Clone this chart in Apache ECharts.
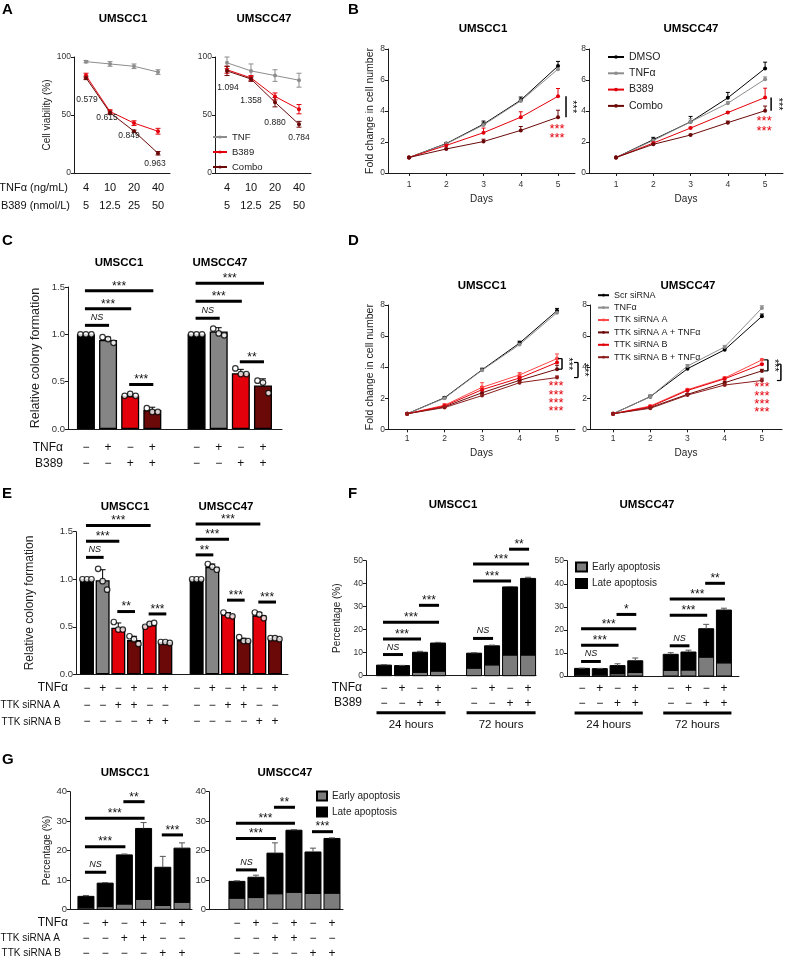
<!DOCTYPE html>
<html>
<head>
<meta charset="utf-8">
<title>Figure</title>
<script src="https://cdn.jsdelivr.net/npm/echarts@6.0.0/dist/echarts.min.js"></script>
<style>
html,body{margin:0;padding:0;background:#ffffff;}
#chart{width:788px;height:962px;}
</style>
</head>
<body>
<div id="chart"></div>
<script>
// ======================= DATA =======================
// Panel A – cell viability (%)
const aTNFDose   = ['4', '10', '20', '40'];
const aB389Dose  = ['5', '12.5', '25', '50'];
const a1TNF      = [96, 94, 92, 87];
const a1TNFErr   = [1, 2, 2, 2];
const a1B389     = [84, 53, 43, 36];
const a1B389Err  = [2, 1.5, 2, 2.5];
const a1Combo    = [82, 52, 36, 17];
const a1ComboErr = [1.5, 1.5, 1, 1.5];
const a1CI       = ['0.579', '0.615', '0.849', '0.963'];
const a2TNF      = [95, 88, 84, 80];
const a2TNFErr   = [5, 6, 5, 6];
const a2B389     = [89, 82, 66, 55];
const a2B389Err  = [3, 2, 3, 4];
const a2Combo    = [88, 81, 61, 42];
const a2ComboErr = [4, 2, 4, 2.5];
const a2CI       = ['1.094', '1.358', '0.880', '0.784'];

// Panel B – fold change in cell number
const days = [1, 2, 3, 4, 5];
const b1DMSO     = [1, 1.9, 3.15, 4.7, 6.9];
const b1DMSOErr  = [0, 0.05, 0.2, 0.2, 0.3];
const b1TNF      = [1, 1.88, 3.1, 4.65, 6.7];
const b1TNFErr   = [0, 0.05, 0.15, 0.15, 0.2];
const b1B389     = [1, 1.78, 2.6, 3.6, 4.95];
const b1B389Err  = [0, 0.05, 0.3, 0.35, 0.5];
const b1Combo    = [1, 1.55, 2.03, 2.75, 3.6];
const b1ComboErr = [0, 0.05, 0.15, 0.25, 0.45];
const b2DMSO     = [1, 2.15, 3.3, 4.85, 6.75];
const b2DMSOErr  = [0, 0.15, 0.35, 0.35, 0.4];
const b2TNF      = [1, 2.1, 3.3, 4.5, 6.05];
const b2TNFErr   = [0, 0.1, 0.2, 0.1, 0.15];
const b2B389     = [1, 1.93, 2.9, 3.9, 4.87];
const b2B389Err  = [0, 0.1, 0.05, 0.05, 0.6];
const b2Combo    = [1, 1.85, 2.45, 3.25, 4.02];
const b2ComboErr = [0, 0.05, 0.05, 0.1, 0.3];
const bSigBlack  = ['***'];
const bSigRed    = ['***', '***'];

// Panel C – relative colony formation
const cBars  = [1.0, 0.94, 0.35, 0.20, 1.0, 1.03, 0.59, 0.46];
const cErr   = [0, 0.03, 0.02, 0.03, 0, 0.04, 0.04, 0.07];
const cDots  = [[1, 1, 1], [0.97, 0.95, 0.91], [0.35, 0.37, 0.35], [0.22, 0.18, 0.18],
                [1, 1, 1], [1.06, 1.01, 0.99], [0.64, 0.58, 0.58], [0.51, 0.49, 0.38]];
const cRowTNF  = ['−', '+', '−', '+', '−', '+', '−', '+'];
const cRowB389 = ['−', '−', '+', '+', '−', '−', '+', '+'];
const cSig = [[0, 1, 1.095, 'NS'], [0, 2, 1.27, '***'], [0, 3, 1.46, '***'], [2, 3, 0.47, '***'],
              [4, 5, 1.17, 'NS'], [4, 6, 1.35, '***'], [4, 7, 1.54, '***'], [6, 7, 0.71, '**']];

// Panel D – fold change, siRNA
const d1Scr  = [1, 2.03, 3.83, 5.55, 7.63];  const d1ScrErr  = [0, 0.08, 0.1, 0.12, 0.15];
const d1TNF  = [1, 2.0, 3.8, 5.45, 7.5];     const d1TNFErr  = [0, 0.05, 0.1, 0.1, 0.12];
const d1A    = [1, 1.55, 2.7, 3.5, 4.55];    const d1AErr    = [0, 0.1, 0.3, 0.15, 0.3];
const d1ATNF = [1, 1.45, 2.35, 3.15, 3.87];  const d1ATNFErr = [0, 0.05, 0.15, 0.15, 0.25];
const d1B    = [1, 1.5, 2.55, 3.3, 4.3];     const d1BErr    = [0, 0.1, 0.2, 0.1, 0.25];
const d1BTNF = [1, 1.4, 2.17, 3.0, 3.33];    const d1BTNFErr = [0, 0.05, 0.1, 0.1, 0.1];
const d2Scr  = [1, 2.1, 3.9, 5.12, 7.27];    const d2ScrErr  = [0, 0.1, 0.08, 0.08, 0.15];
const d2TNF  = [1, 2.1, 4.07, 5.3, 7.8];     const d2TNFErr  = [0, 0.08, 0.1, 0.1, 0.15];
const d2A    = [1, 1.5, 2.55, 3.3, 4.47];    const d2AErr    = [0, 0.05, 0.08, 0.08, 0.05];
const d2ATNF = [1, 1.4, 2.25, 3.0, 3.76];    const d2ATNFErr = [0, 0.05, 0.05, 0.1, 0.1];
const d2B    = [1, 1.45, 2.5, 3.25, 4.19];   const d2BErr    = [0, 0.05, 0.05, 0.08, 0.05];
const d2BTNF = [1, 1.35, 2.2, 2.85, 3.14];   const d2BTNFErr = [0, 0.05, 0.05, 0.05, 0.15];
const dSigBlack = ['***', '***'];
const dSigRed   = ['***', '***', '***', '***'];

// Panel E – relative colony formation, siRNA
const eBars = [1.0, 0.99, 0.49, 0.36, 0.52, 0.34, 1.0, 1.13, 0.63, 0.36, 0.62, 0.38];
const eErr  = [0, 0.11, 0.05, 0.04, 0.02, 0.01, 0, 0.03, 0.02, 0.02, 0.03, 0.01];
const eDots = [[1, 1, 1], [1.11, 0.98, 0.89], [0.55, 0.47, 0.47], [0.40, 0.37, 0.32], [0.50, 0.53, 0.54], [0.34, 0.34, 0.33],
               [1, 1, 1], [1.16, 1.13, 1.10], [0.65, 0.62, 0.61], [0.39, 0.35, 0.35], [0.65, 0.63, 0.59], [0.38, 0.38, 0.37]];
const eRowTNF = ['−', '+', '−', '+', '−', '+', '−', '+', '−', '+', '−', '+'];
const eRowA   = ['−', '−', '+', '+', '−', '−', '−', '−', '+', '+', '−', '−'];
const eRowB   = ['−', '−', '−', '−', '+', '+', '−', '−', '−', '−', '+', '+'];
const eSig = [[0, 1, 1.23, 'NS'], [0, 2, 1.40, '***'], [0, 4, 1.565, '***'], [2, 3, 0.66, '**'], [4, 5, 0.635, '***'],
              [6, 7, 1.256, '**'], [6, 8, 1.42, '***'], [6, 10, 1.58, '***'], [8, 9, 0.78, '***'], [10, 11, 0.76, '***']];

// Panel F – apoptosis (%)
const f1Early = [0.5, 0.5, 1.5, 2.0, 3.3, 4.7, 9.0, 9.0];
const f1Late  = [4.1, 3.9, 8.7, 12.2, 6.5, 8.3, 29.6, 33.3];
const f1Err   = [0.2, 0.1, 0.4, 0.3, 0.2, 0.3, 0.2, 0.5];
const f1Sig = [[0, 1, 9.2, 'NS'], [0, 2, 16.0, '***'], [0, 3, 23.2, '***'], [2, 3, 30.6, '***'],
               [4, 5, 16.2, 'NS'], [4, 6, 41.2, '***'], [4, 7, 48.6, '***'], [6, 7, 55, '**']];
const f2Early = [0.5, 0.5, 1.0, 1.5, 2.5, 2.6, 8.2, 5.7];
const f2Late  = [2.8, 2.7, 3.5, 5.1, 6.9, 7.8, 12.3, 22.9];
const f2Err   = [0.1, 0.1, 0.8, 1.2, 0.7, 0.8, 1.9, 0.8];
const f2Sig = [[0, 1, 6.3, 'NS'], [0, 2, 13.3, '***'], [0, 3, 20.5, '***'], [2, 3, 26.7, '*'],
               [4, 5, 13.1, 'NS'], [4, 6, 26.3, '***'], [4, 7, 33.4, '***'], [6, 7, 40.2, '**']];
const fRowTNF  = ['−', '+', '−', '+', '−', '+', '−', '+'];
const fRowB389 = ['−', '−', '+', '+', '−', '−', '+', '+'];
const fGroups  = ['24 hours', '72 hours'];

// Panel G – apoptosis (%), siRNA
const g1Early = [0.5, 0.9, 1.8, 3.4, 1.3, 2.4];
const g1Late  = [3.9, 8.0, 16.7, 24.1, 13.0, 18.4];
const g1Err   = [0.3, 0.2, 0.3, 2.0, 3.7, 1.8];
const g1Sig = [[0, 1, 12.6, 'NS'], [0, 2, 21.3, '***'], [0, 3, 31.0, '***'], [2, 3, 36.6, '**'], [4, 5, 25.3, '***']];
const g2Early = [3.8, 4.0, 5.3, 5.8, 5.4, 5.5];
const g2Late  = [5.7, 6.9, 13.8, 21.1, 14.1, 18.6];
const g2Err   = [0.2, 0.7, 3.5, 0.2, 1.3, 0.2];
const g2Sig = [[0, 1, 13.4, 'NS'], [0, 2, 24.1, '***'], [0, 3, 29.3, '***'], [2, 3, 34.7, '**'], [4, 5, 26.4, '***']];
const gRowTNF = ['−', '+', '−', '+', '−', '+'];
const gRowA   = ['−', '−', '+', '+', '−', '−'];
const gRowB   = ['−', '−', '−', '−', '+', '+'];

// ======================= STYLE =======================
const FONT = '"Liberation Sans", Arial, Helvetica, sans-serif';
const BLACK = '#000000', GREY = '#8d8d8d', RED = '#e3000b', DRED = '#6b0909', LRED = '#ff4848';
const BAR_GREY = '#858585', EARLY_GREY = '#7c7c7c';

const grid = [], xAxis = [], yAxis = [], series = [];
function addGrid(g) { grid.push(g); return grid.length - 1; }
function axLine() { return {show: true, onZero: false, lineStyle: {color: '#1a1a1a', width: 1}}; }
function slotsFor(n, groupSize) { return Array.from({length: n}, (_, i) => i + Math.floor(i / groupSize)); }
function txtStyle(o) {
  return Object.assign({fontFamily: FONT, fill: '#111', align: 'center', verticalAlign: 'middle',
                        textAlign: 'center', textVerticalAlign: 'middle'}, o);
}

function yAx(gi, o) {
  return {
    type: 'value', gridIndex: gi, min: 0, max: o.max, interval: o.interval,
    axisLine: axLine(), axisTick: {show: true, length: 3, lineStyle: {color: '#1a1a1a'}},
    axisLabel: {fontSize: o.fs || 9, color: '#333', margin: 3, fontFamily: FONT, formatter: o.fmt},
    splitLine: {show: false},
    name: o.name || '', nameLocation: 'middle', nameGap: o.nameGap || 20, nameRotate: 90,
    nameTextStyle: {fontSize: o.nameFs || 10, color: '#222', fontFamily: FONT}
  };
}

function lineS(name, gi, data, color, xs, extra) {
  return Object.assign({
    type: 'line', name, xAxisIndex: gi, yAxisIndex: gi,
    data: xs ? data.map((v, i) => [xs[i], v]) : data,
    symbol: 'circle', symbolSize: 4, showSymbol: true, animation: false,
    lineStyle: {color, width: 1}, itemStyle: {color}, z: 4, emphasis: {disabled: true}
  }, extra || {});
}

function errS(gi, xs, ys, es, color, both, cap) {
  return {
    type: 'custom', xAxisIndex: gi, yAxisIndex: gi, clip: false, silent: true, z: 3,
    data: xs.map((x, i) => [x, ys[i], es[i]]),
    renderItem: (params, api) => {
      const x = api.value(0), y = api.value(1), e = api.value(2);
      if (!e) return {type: 'group', children: []};
      const t = api.coord([x, y + e]), b = api.coord([x, both ? y - e : y]);
      const ch = [
        {type: 'line', shape: {x1: t[0], y1: t[1], x2: b[0], y2: b[1]}, style: {stroke: color, lineWidth: 1}},
        {type: 'line', shape: {x1: t[0] - cap, y1: t[1], x2: t[0] + cap, y2: t[1]}, style: {stroke: color, lineWidth: 1}}
      ];
      if (both) ch.push({type: 'line', shape: {x1: b[0] - cap, y1: b[1], x2: b[0] + cap, y2: b[1]}, style: {stroke: color, lineWidth: 1}});
      return {type: 'group', children: ch};
    }
  };
}

function sigS(gi, sig, slots) {
  return {
    type: 'custom', xAxisIndex: gi, yAxisIndex: gi, clip: false, silent: true, z: 8,
    data: sig.map(s => [slots[s[0]], s[2]]),
    renderItem: (params, api) => {
      const s = sig[params.dataIndex];
      const p1 = api.coord([slots[s[0]], s[2]]), p2 = api.coord([slots[s[1]], s[2]]);
      const ns = s[3] === 'NS';
      return {type: 'group', children: [
        {type: 'rect', shape: {x: p1[0] - 1, y: p1[1] - 1.5, width: p2[0] - p1[0] + 2, height: 3}, style: {fill: '#000'}},
        {type: 'text', style: txtStyle({x: (p1[0] + p2[0]) / 2, y: p1[1] - (ns ? 7.5 : 4.5), text: s[3],
          fontSize: ns ? 9 : 12, fontStyle: ns ? 'italic' : 'normal', fill: '#111'})}
      ]};
    }
  };
}

function bracketS(gi, xVal, tops, bots, texts, o) {
  return {
    type: 'custom', xAxisIndex: gi, yAxisIndex: gi, clip: false, silent: true, z: 8,
    data: texts.map((t, i) => [xVal, tops[i]]),
    renderItem: (params, api) => {
      const i = params.dataIndex;
      const a = api.coord([xVal, tops[i]]), b = api.coord([xVal, bots[i]]);
      const X = a[0] + o.dx + i * o.step;
      const ch = [{type: 'line', shape: {x1: X, y1: a[1], x2: X, y2: b[1]}, style: {stroke: '#000', lineWidth: 1.5}}];
      if (o.bracket) {
        ch.push({type: 'line', shape: {x1: X - 4, y1: a[1], x2: X, y2: a[1]}, style: {stroke: '#000', lineWidth: 1.2}});
        ch.push({type: 'line', shape: {x1: X - 4, y1: b[1], x2: X, y2: b[1]}, style: {stroke: '#000', lineWidth: 1.2}});
      }
      ch.push({type: 'text', x: X + o.tx, y: (a[1] + b[1]) / 2, rotation: -Math.PI / 2,
        style: txtStyle({x: 0, y: 0, text: texts[i], fontSize: 11, fill: '#000'})});
      return {type: 'group', children: ch};
    }
  };
}

function redStarS(gi, xVal, anchor, lines, o) {
  return {
    type: 'custom', xAxisIndex: gi, yAxisIndex: gi, clip: false, silent: true, z: 8,
    data: [[xVal, anchor]],
    renderItem: (params, api) => {
      const a = api.coord([xVal, anchor]);
      return {type: 'text', style: {x: a[0] + o.dx, y: a[1] + o.dy, text: lines.join('\n'), fontSize: 13, lineHeight: o.lh,
        fontFamily: FONT, fill: RED, align: 'center', verticalAlign: 'top', textAlign: 'center', textVerticalAlign: 'top'}};
    }
  };
}

function stackS(gi, name, slots, early, late, which, color, bw) {
  return {
    type: 'custom', name, xAxisIndex: gi, yAxisIndex: gi, clip: false, z: 2,
    itemStyle: {color, borderColor: '#000', borderWidth: 1},
    data: slots.map((s, i) => [s, early[i], late[i]]),
    renderItem: (params, api) => {
      const x = api.value(0), e = api.value(1), l = api.value(2);
      const y0 = which === 'early' ? 0 : e, y1 = which === 'early' ? e : e + l;
      const a = api.coord([x, y0]), b = api.coord([x, y1]);
      return {type: 'rect', shape: {x: a[0] - bw / 2, y: b[1], width: bw, height: a[1] - b[1]},
              style: {fill: color, stroke: '#000', lineWidth: 1}};
    }
  };
}

function groupS(gi, slots, groups, perGroup, bw) {
  return {
    type: 'custom', xAxisIndex: gi, yAxisIndex: gi, clip: false, silent: true, z: 8,
    data: groups.map((g, k) => [slots[k * perGroup], 0]),
    renderItem: (params, api) => {
      const k = params.dataIndex;
      const p1 = api.coord([slots[k * perGroup], 0]), p2 = api.coord([slots[k * perGroup + perGroup - 1], 0]);
      return {type: 'group', children: [
        {type: 'rect', shape: {x: p1[0] - bw / 2, y: p1[1] + 35.5, width: p2[0] - p1[0] + bw, height: 3}, style: {fill: '#000'}},
        {type: 'text', style: txtStyle({x: (p1[0] + p2[0]) / 2, y: p1[1] + 49, text: groups[k], fontSize: 11.5, fill: '#111'})}
      ]};
    }
  };
}

function barX(gi, o, slots, rows) {
  return {
    type: 'value', gridIndex: gi, min: o.min, max: o.max,
    axisLine: axLine(), axisTick: {show: false}, splitLine: {show: false},
    axisLabel: {customValues: slots, fontSize: 12, lineHeight: o.lh, margin: o.margin, color: '#111', fontFamily: FONT,
      formatter: v => { const i = slots.indexOf(v); return i < 0 ? '' : rows.map(r => r[i]).join('\n'); }}
  };
}

function dotsS(gi, slots, dots, spread) {
  const data = [];
  dots.forEach((arr, i) => arr.forEach((v, j) => data.push({value: [slots[i], v], symbolOffset: [(j - 1) * spread, 0]})));
  return {type: 'scatter', xAxisIndex: gi, yAxisIndex: gi, symbol: 'circle', symbolSize: 5.5, z: 6, silent: true,
          itemStyle: {color: '#fff', borderColor: '#000', borderWidth: 1.2}, data};
}

// ======================= PANEL A =======================
function panelA(g, tnf, tnfE, b389, b389E, combo, comboE, ci, ciOff, yName) {
  const gi = addGrid(g);
  xAxis.push({type: 'category', gridIndex: gi, data: aTNFDose, boundaryGap: true, axisLine: axLine(), axisTick: {show: false},
    axisLabel: {interval: 0, margin: 6, fontSize: 11, lineHeight: 18, color: '#111', fontFamily: FONT,
      formatter: (v, i) => aTNFDose[i] + '\n' + aB389Dose[i]}});
  yAxis.push(yAx(gi, {max: 100, interval: 50, fs: 8.5, name: yName, nameGap: 22, nameFs: 10}));
  const xs = [0, 1, 2, 3];
  series.push(lineS('TNF', gi, tnf, GREY));
  series.push(lineS('B389', gi, b389, RED));
  series.push(lineS('Combo', gi, combo.map((v, i) => ({value: v, label: {show: true, position: 'inside', offset: ciOff[i],
    formatter: ci[i], fontSize: 8.5, color: '#222', fontFamily: FONT}})), DRED));
  series.push(errS(gi, xs, tnf, tnfE, GREY, true, 2.5));
  series.push(errS(gi, xs, b389, b389E, RED, true, 2.5));
  series.push(errS(gi, xs, combo, comboE, DRED, true, 2.5));
}
panelA({left: 74, top: 57, width: 96, height: 116}, a1TNF, a1TNFErr, a1B389, a1B389Err, a1Combo, a1ComboErr, a1CI,
       [[1, 22], [-3, 4.5], [-5, 4], [-3, 10.5]], 'Cell viability (%)');
panelA({left: 215, top: 57, width: 96, height: 116}, a2TNF, a2TNFErr, a2B389, a2B389Err, a2Combo, a2ComboErr, a2CI,
       [[1, 17], [0, 21.5], [0, 20.5], [0, 13.5]], '');

// ======================= PANEL B / D (growth curves) =======================
function growthGrid(g, xmin, xmax, yName, lblMargin, nameGap) {
  const gi = addGrid(g);
  xAxis.push({type: 'value', gridIndex: gi, min: xmin, max: xmax, axisLine: axLine(),
    axisTick: {show: true, customValues: days, length: 3, lineStyle: {color: '#1a1a1a'}},
    axisLabel: {customValues: days, fontSize: 8.5, color: '#333', margin: lblMargin, fontFamily: FONT},
    splitLine: {show: false}, name: 'Days', nameLocation: 'middle', nameGap: nameGap,
    nameTextStyle: {fontSize: 10, color: '#222', fontFamily: FONT}});
  yAxis.push(yAx(gi, {max: 8, interval: 2, fs: 8.5, name: yName, nameGap: 12, nameFs: 10.5}));
  return gi;
}
function addCurves(gi, list) {
  list.forEach(c => {
    series.push(lineS(c[0], gi, c[1], c[3], days));
    series.push(errS(gi, days, c[1], c[2], c[3], false, 2));
  });
}
// B
let gi = growthGrid({left: 388, top: 49, width: 187, height: 124}, 0.436, 5.456, 'Fold change in cell number', 7, 21);
addCurves(gi, [['DMSO', b1DMSO, b1DMSOErr, BLACK], ['TNFα', b1TNF, b1TNFErr, GREY], ['B389', b1B389, b1B389Err, RED], ['Combo', b1Combo, b1ComboErr, DRED]]);
series.push(bracketS(gi, 5, [b1B389[4]], [b1Combo[4]], bSigBlack, {dx: 8, step: 0, tx: 6, bracket: false}));
series.push(redStarS(gi, 5, b1Combo[4], bSigRed, {dx: -1, dy: 8, lh: 9}));
gi = growthGrid({left: 589, top: 49, width: 194, height: 124}, 0.275, 5.48, '', 7, 21);
addCurves(gi, [['DMSO', b2DMSO, b2DMSOErr, BLACK], ['TNFα', b2TNF, b2TNFErr, GREY], ['B389', b2B389, b2B389Err, RED], ['Combo', b2Combo, b2ComboErr, DRED]]);
series.push(bracketS(gi, 5, [b2B389[4]], [b2Combo[4]], bSigBlack, {dx: 6, step: 0, tx: 7, bracket: false}));
series.push(redStarS(gi, 5, b2Combo[4], bSigRed, {dx: -1, dy: 6, lh: 9.5}));

// ======================= PANEL C =======================
const cSlots = slotsFor(cBars.length, 4);
const cColors = [BLACK, BAR_GREY, RED, DRED, BLACK, BAR_GREY, RED, DRED];
gi = addGrid({left: 68, top: 287, width: 214, height: 142});
xAxis.push(barX(gi, {min: -0.81, max: 8.86, lh: 16, margin: 11}, cSlots, [cRowTNF, cRowB389]));
yAxis.push(yAx(gi, {max: 1.5, interval: 0.5, fs: 9.5, fmt: v => v.toFixed(1), name: 'Relative colony formation', nameGap: 26, nameFs: 12.5}));
series.push({type: 'bar', xAxisIndex: gi, yAxisIndex: gi, barWidth: 18, z: 2, silent: true,
  data: cBars.map((v, i) => ({value: [cSlots[i], v], itemStyle: {color: cColors[i], borderColor: '#000', borderWidth: 1.3}}))});
series.push(errS(gi, cSlots, cBars, cErr, '#000', false, 3));
series.push(dotsS(gi, cSlots, cDots, 5.5));
series.push(sigS(gi, cSig, cSlots));

// ======================= PANEL D =======================
gi = growthGrid({left: 388, top: 305, width: 187, height: 124.3}, 0.49, 5.48, 'Fold change in cell number', 5, 19);
addCurves(gi, [['Scr siRNA', d1Scr, d1ScrErr, BLACK], ['TNFα', d1TNF, d1TNFErr, GREY], ['TTK siRNA A', d1A, d1AErr, LRED],
               ['TTK siRNA A + TNFα', d1ATNF, d1ATNFErr, DRED], ['TTK siRNA B', d1B, d1BErr, RED], ['TTK siRNA B + TNFα', d1BTNF, d1BTNFErr, '#8a1c1c']]);
series.push(bracketS(gi, 5, [d1A[4], d1B[4]], [d1ATNF[4], d1BTNF[4]], dSigBlack, {dx: 5, step: 16, tx: 6, bracket: true}));
series.push(redStarS(gi, 5, d1BTNF[4], dSigRed, {dx: -1, dy: 5, lh: 8.3}));
gi = growthGrid({left: 590, top: 305, width: 192, height: 124.3}, 0.38, 5.54, '', 5, 19);
addCurves(gi, [['Scr siRNA', d2Scr, d2ScrErr, BLACK], ['TNFα', d2TNF, d2TNFErr, GREY], ['TTK siRNA A', d2A, d2AErr, LRED],
               ['TTK siRNA A + TNFα', d2ATNF, d2ATNFErr, DRED], ['TTK siRNA B', d2B, d2BErr, RED], ['TTK siRNA B + TNFα', d2BTNF, d2BTNFErr, '#8a1c1c']]);
series.push(bracketS(gi, 5, [d2A[4], d2B[4]], [d2ATNF[4], d2BTNF[4]], dSigBlack, {dx: 6, step: 13, tx: 6, bracket: true}));
series.push(redStarS(gi, 5, d2BTNF[4], dSigRed, {dx: 0, dy: 3, lh: 8.3}));

// ======================= PANEL E =======================
const eSlots = slotsFor(eBars.length, 6);
const eColors = [BLACK, BAR_GREY, RED, DRED, RED, DRED, BLACK, BAR_GREY, RED, DRED, RED, DRED];
gi = addGrid({left: 76, top: 531.7, width: 212, height: 142.6});
xAxis.push(barX(gi, {min: -0.7, max: 12.83, lh: 16.7, margin: 6}, eSlots, [eRowTNF, eRowA, eRowB]));
yAxis.push(yAx(gi, {max: 1.5, interval: 0.5, fs: 9.5, fmt: v => v.toFixed(1), name: 'Relative colony formation', nameGap: 40, nameFs: 12}));
series.push({type: 'bar', xAxisIndex: gi, yAxisIndex: gi, barWidth: 14, z: 2, silent: true,
  data: eBars.map((v, i) => ({value: [eSlots[i], v], itemStyle: {color: eColors[i], borderColor: '#000', borderWidth: 1.3}}))});
series.push(errS(gi, eSlots, eBars, eErr, '#000', false, 3));
series.push(dotsS(gi, eSlots, eDots, 4.5));
series.push(sigS(gi, eSig, eSlots));

// ======================= PANEL F =======================
function apopPanel(g, xmin, xmax, ymax, slots, early, late, err, sig, rows, bw, yName, nameGap, fs, margin, lh) {
  const gi = addGrid(g);
  xAxis.push(barX(gi, {min: xmin, max: xmax, lh: lh, margin: margin}, slots, rows));
  yAxis.push(yAx(gi, {max: ymax, interval: 10, fs: fs, name: yName, nameGap: nameGap, nameFs: 10}));
  series.push(stackS(gi, 'Early apoptosis', slots, early, late, 'early', EARLY_GREY, bw));
  series.push(stackS(gi, 'Late apoptosis', slots, early, late, 'late', BLACK, bw));
  series.push(errS(gi, slots, early.map((e, i) => e + late[i]), err, '#555', false, 3));
  series.push(sigS(gi, sig, slots));
  return gi;
}
const fSlots = slotsFor(f1Early.length, 4);
gi = apopPanel({left: 366, top: 560.7, width: 170, height: 115}, -1.0, 8.44, 50, fSlots, f1Early, f1Late, f1Err, f1Sig,
               [fRowTNF, fRowB389], 15, 'Percentage (%)', 24, 8.5, 5, 15);
series.push(groupS(gi, fSlots, fGroups, 4, 15));
gi = apopPanel({left: 567, top: 560.7, width: 172, height: 115.3}, -0.85, 8.85, 50, fSlots, f2Early, f2Late, f2Err, f2Sig,
               [fRowTNF, fRowB389], 15, '', 24, 8.5, 5, 15);
series.push(groupS(gi, fSlots, fGroups, 4, 15));

// ======================= PANEL G =======================
const gSlots = slotsFor(g1Early.length, 6);
apopPanel({left: 70, top: 791.7, width: 122, height: 117.6}, -0.83, 5.52, 40, gSlots, g1Early, g1Late, g1Err, g1Sig,
          [gRowTNF, gRowA, gRowB], 16, 'Percentage (%)', 18, 9.5, 6.5, 15);
apopPanel({left: 209, top: 791.7, width: 134, height: 117.6}, -1.47, 5.58, 40, gSlots, g2Early, g2Late, g2Err, g2Sig,
          [gRowTNF, gRowA, gRowB], 16, '', 18, 9.5, 6.5, 15);

// ======================= TEXT / LAYOUT =======================
const elements = [];
function T(text, x, y, o) {
  o = o || {};
  elements.push({type: 'text', x: x, y: y, silent: true, style: txtStyle({text: text, fontSize: o.fs || 11,
    fontWeight: o.fw || 'normal', fill: o.color || '#111', align: o.align || 'center', textAlign: o.align || 'center'})});
}
// panel letters
[['A', 2, 10], ['B', 348, 10], ['C', 2, 241], ['D', 348, 241], ['E', 2, 494], ['F', 348, 494], ['G', 2, 760]]
  .forEach(l => T(l[0], l[1], l[2], {fs: 15, fw: 'bold', align: 'left', color: '#000'}));
// panel titles
[['UMSCC1', 123, 19], ['UMSCC47', 264, 19], ['UMSCC1', 483, 29], ['UMSCC47', 691, 29],
 ['UMSCC1', 119, 263], ['UMSCC47', 220, 263], ['UMSCC1', 482, 286], ['UMSCC47', 688, 286],
 ['UMSCC1', 125, 507], ['UMSCC47', 226, 507], ['UMSCC1', 453, 505], ['UMSCC47', 647, 505],
 ['UMSCC1', 125, 773], ['UMSCC47', 285, 773]]
  .forEach(t => T(t[0], t[1], t[2], {fs: 11.5, fw: 'bold', color: '#000'}));
// row labels of the treatment tables
T('TNFα (ng/mL)', 68, 188, {fs: 11, align: 'right'});
T('B389 (nmol/L)', 70, 206, {fs: 11, align: 'right'});
T('TNFα', 63, 448, {fs: 12, align: 'right'});
T('B389', 63, 464, {fs: 12, align: 'right'});
T('TNFα', 68, 688, {fs: 12, align: 'right'});
T('TTK siRNA A', 60, 705, {fs: 10, align: 'right'});
T('TTK siRNA B', 61, 722, {fs: 10, align: 'right'});
T('TNFα', 362, 688, {fs: 12, align: 'right'});
T('B389', 362, 703, {fs: 12, align: 'right'});
T('TNFα', 68, 923, {fs: 12, align: 'right'});
T('TTK siRNA A', 60, 938, {fs: 10, align: 'right'});
T('TTK siRNA B', 61, 953, {fs: 10, align: 'right'});

function legendOpt(names, left, top, o) {
  return Object.assign({data: names, orient: 'vertical', left: left, top: top, padding: 0, selectedMode: false,
    textStyle: {fontSize: o.fs, lineHeight: o.lh, color: '#222', fontFamily: FONT}}, o.extra);
}

const option = {
  animation: false,
  backgroundColor: '#ffffff',
  textStyle: {fontFamily: FONT},
  grid, xAxis, yAxis, series,
  legend: [
    legendOpt(['TNF', 'B389', 'Combo'], 212, 131.5, {fs: 9.5, lh: 11, extra: {itemGap: 4, itemWidth: 14, itemHeight: 4}}),
    legendOpt(['DMSO', 'TNFα', 'B389', 'Combo'], 607, 51, {fs: 10.5, lh: 12, extra: {itemGap: 4.3, itemWidth: 16, itemHeight: 4.5}}),
    legendOpt(['Scr siRNA', 'TNFα', 'TTK siRNA A', 'TTK siRNA A + TNFα', 'TTK siRNA B', 'TTK siRNA B + TNFα'], 597, 290,
              {fs: 9, lh: 10.4, extra: {itemGap: 2, itemWidth: 11, itemHeight: 3.5}}),
    legendOpt(['Early apoptosis', 'Late apoptosis'], 575, 561, {fs: 10, lh: 12, extra: {itemGap: 4.6, itemWidth: 11, itemHeight: 9, icon: 'rect'}}),
    legendOpt(['Early apoptosis', 'Late apoptosis'], 316, 790, {fs: 10, lh: 12, extra: {itemGap: 4, itemWidth: 10, itemHeight: 9, icon: 'rect'}})
  ],
  graphic: {elements}
};

const chart = echarts.init(document.getElementById('chart'), null, {renderer: 'canvas', width: 788, height: 962});
chart.setOption(option);
</script>
</body>
</html>
